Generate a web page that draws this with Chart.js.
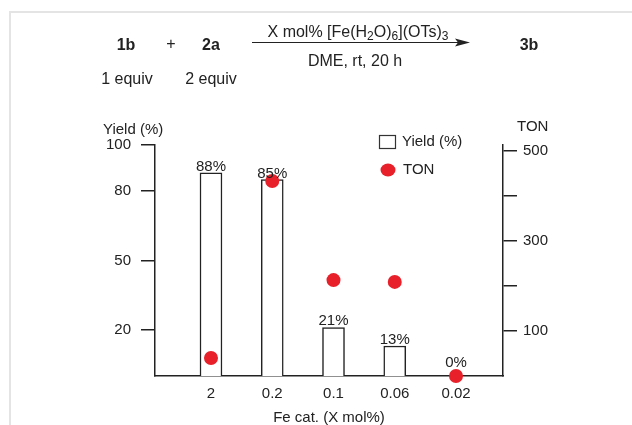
<!DOCTYPE html>
<html>
<head>
<meta charset="utf-8">
<script src="https://cdn.jsdelivr.net/npm/chart.js@4/dist/chart.umd.min.js"></script>
<style>
  body { margin: 0; background: #fff; font-family: 'Liberation Sans', Arial, sans-serif; color: #222; }
  #wrap { position: relative; width: 632px; height: 425px; overflow: hidden; }
  #frame { position: absolute; left: 9px; top: 11px; right: -5px; bottom: -5px;
           border-top: 2px solid #e4e4e4; border-left: 2px solid #e4e4e4; }
  .t { position: absolute; font-size: 16px; white-space: nowrap; line-height: 1; transform: translate(-50%, -50%); }
  .b { font-weight: bold; }
  .t sub { font-size: 12px; vertical-align: -3px; line-height: 0; }
  canvas { position: absolute; left: 0; top: 0; }
  svg { position: absolute; left: 0; top: 0; }
</style>
</head>
<body>
<div id="wrap">
  <div id="frame"></div>
  <canvas id="yieldChart" width="632" height="425"></canvas>

  <!-- reaction scheme -->
  <div class="t b" style="left:126px; top:45px;">1b</div>
  <div class="t" style="left:171px; top:44px;">+</div>
  <div class="t b" style="left:211px; top:45px;">2a</div>
  <div class="t b" style="left:529px; top:45px;">3b</div>
  <div class="t" style="left:358px; top:32px;">X mol% [Fe(H<sub>2</sub>O)<sub>6</sub>](OTs)<sub>3</sub></div>
  <div class="t" style="left:355px; top:61px;">DME, rt, 20 h</div>
  <div class="t" style="left:127px; top:79px;">1 equiv</div>
  <div class="t" style="left:211px; top:79px;">2 equiv</div>
  <svg width="632" height="100">
    <line x1="252" y1="42.5" x2="462" y2="42.5" stroke="#222" stroke-width="1.2"/>
    <polygon points="470,42.5 455,38.5 458,42.5 455,46.5" fill="#222"/>
  </svg>
</div>

<script>
// data
const catLabels = ['2', '0.2', '0.1', '0.06', '0.02'];
const yieldValues = [88, 85, 21, 13, 0];
const tonValues = [40, 433, 213, 209, 0];
const yieldTicks = [20, 50, 80, 100];
const tonTicks = [100, 200, 300, 400, 500];
const tonTickLabels = ['100', '', '300', '', '500'];

const INK = '#222';
const RED = '#e8202a';
const FONT = "'Liberation Sans', Arial, sans-serif";

Chart.defaults.font.family = FONT;
Chart.defaults.font.size = 15;
Chart.defaults.color = INK;

// % labels above bars, legend and axis titles
const extras = {
    id: 'extras',
    afterDatasetsDraw(chart) {
        const ctx = chart.ctx;
        const meta = chart.getDatasetMeta(1);
        ctx.save();
        ctx.font = '15px ' + FONT;
        ctx.fillStyle = INK;
        ctx.textAlign = 'center';
        ctx.textBaseline = 'alphabetic';
        meta.data.forEach((bar, i) => {
            const v = yieldValues[i];
            ctx.fillText(v + '%', bar.x, bar.y - (v === 0 ? 9 : 2));
        });
        ctx.restore();
    },
    afterDraw(chart) {
        const ctx = chart.ctx;
        const area = chart.chartArea;
        ctx.save();
        ctx.font = '15px ' + FONT;
        ctx.fillStyle = INK;
        ctx.textBaseline = 'middle';

        // axis titles
        ctx.textAlign = 'left';
        ctx.fillText('Yield (%)', 103, 130);
        ctx.fillText('TON', 517, 127);
        ctx.textAlign = 'center';
        ctx.fillText('Fe cat. (X mol%)', (area.left + area.right) / 2, 418);

        // legend
        ctx.textAlign = 'left';
        ctx.strokeStyle = '#333';
        ctx.lineWidth = 1.2;
        ctx.strokeRect(379.5, 135.5, 16, 13);
        ctx.fillText('Yield (%)', 402, 142);
        ctx.fillStyle = RED;
        ctx.beginPath();
        ctx.ellipse(388, 170, 7.5, 6.5, 0, 0, Math.PI * 2);
        ctx.fill();
        ctx.fillStyle = INK;
        ctx.fillText('TON', 403, 170);
        ctx.restore();
    }
};

new Chart(document.getElementById('yieldChart'), {
    data: {
        datasets: [{
            type: 'scatter',
            label: 'TON',
            data: tonValues.map((v, i) => ({ x: i, y: v })),
            yAxisID: 'y1',
            backgroundColor: RED,
            borderWidth: 0,
            pointRadius: 7,
            clip: false,
            order: 0
        }, {
            type: 'bar',
            label: 'Yield (%)',
            data: yieldValues.map((v, i) => ({ x: i, y: v })),
            yAxisID: 'y',
            backgroundColor: '#fff',
            borderColor: INK,
            borderWidth: 1.5,
            barThickness: 22,
            order: 1
        }]
    },
    options: {
        responsive: false,
        animation: false,
        layout: { padding: { top: 145, left: 0, right: 0, bottom: 0 } },
        plugins: {
            legend: { display: false },
            tooltip: { enabled: false }
        },
        scales: {
            x: {
                type: 'linear',
                offset: false,
                min: -0.914,
                max: 4.767,
                afterBuildTicks: s => { s.ticks = catLabels.map((_, i) => ({ value: i })); },
                afterFit: s => { s.height = 49; },
                grid: { display: false, drawTicks: false },
                border: { display: true, color: INK, width: 1.5 },
                ticks: { padding: 9, autoSkip: false, maxRotation: 0, callback: v => catLabels[v] }
            },
            y: {
                position: 'left',
                min: 0,
                max: 100,
                afterBuildTicks: s => { s.ticks = yieldTicks.map(v => ({ value: v })); },
                afterFit: s => { s.width = 155; },
                grid: { drawOnChartArea: false, tickLength: 14, color: INK, lineWidth: 1.5 },
                border: { color: INK, width: 1.5 },
                ticks: { padding: 10, autoSkip: false }
            },
            y1: {
                position: 'right',
                min: 0,
                max: 513,
                afterBuildTicks: s => { s.ticks = tonTicks.map(v => ({ value: v })); },
                afterFit: s => { s.width = 129; },
                grid: { drawOnChartArea: false, tickLength: 14, color: INK, lineWidth: 1.5 },
                border: { color: INK, width: 1.5 },
                ticks: { padding: 6, autoSkip: false, callback: (v, i) => tonTickLabels[i] }
            }
        }
    },
    plugins: [extras]
});
</script>
</body>
</html>
